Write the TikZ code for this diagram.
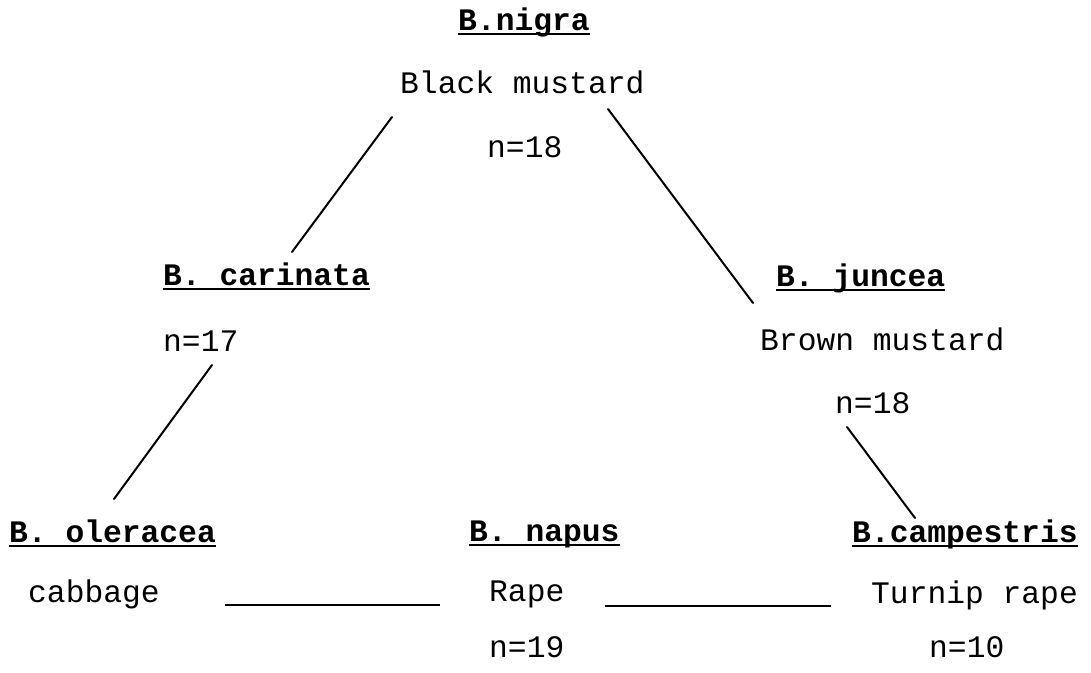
\documentclass[tikz,border=0pt]{standalone}
\usepackage{fontspec}
\setmonofont{Liberation Mono}
\begin{document}
\begin{tikzpicture}[x=1pt,y=-1pt,
  txt/.style={anchor=base west,inner sep=0pt,font=\fontsize{31.3}{36}\selectfont\ttfamily},
  ttl/.style={anchor=base west,inner sep=0pt,font=\fontsize{31.3}{36}\selectfont\ttfamily\bfseries},
  ul/.style={line width=2.2pt},
  conn/.style={line width=2pt,line cap=round}]
\useasboundingbox (0,0) rectangle (1091,672);
% top
\node[ttl] (nigra) at (458,30) {B.nigra};
\node[txt] (black) at (400,93) {Black mustard};
\node[txt] (n18a) at (487,157) {n=18};
% middle
\node[ttl] (carinata) at (163,285) {B. carinata};
\node[txt] (n17) at (163,351) {n=17};
\node[ttl] (juncea) at (776,286) {B. juncea};
\node[txt] (brown) at (760,350) {Brown mustard};
\node[txt] (n18b) at (835,413) {n=18};
% bottom
\node[ttl] (oleracea) at (9,542) {B. oleracea};
\node[txt] (cabbage) at (28,602) {cabbage};
\node[ttl] (napus) at (469,541) {B. napus};
\node[txt] (rape) at (489,601) {Rape};
\node[txt] (n19) at (489,657) {n=19};
\node[ttl] (campestris) at (852,542) {B.campestris};
\node[txt] (turnip) at (871,603) {Turnip rape};
\node[txt] (n10) at (929,657) {n=10};
% underlines
\foreach \n in {nigra,carinata,juncea,oleracea,napus,campestris}
  \draw[ul] ([yshift=-4pt]\n.base west) -- ([yshift=-4pt]\n.base east);
% connector end points
\coordinate (c1a) at (392,117); \coordinate (c1b) at (292,252);
\coordinate (c2a) at (608,109); \coordinate (c2b) at (753,303);
\coordinate (c3a) at (212,365); \coordinate (c3b) at (114,499);
\coordinate (c4a) at (847,427); \coordinate (c4b) at (915,518);
\coordinate (h1a) at (225,605); \coordinate (h1b) at (440,605);
\coordinate (h2a) at (605,606); \coordinate (h2b) at (831,606);
\draw[conn] (c1a) -- (c1b);
\draw[conn] (c2a) -- (c2b);
\draw[conn] (c3a) -- (c3b);
\draw[conn] (c4a) -- (c4b);
\draw[ul] (h1a) -- (h1b);
\draw[ul] (h2a) -- (h2b);
\end{tikzpicture}
\end{document}
